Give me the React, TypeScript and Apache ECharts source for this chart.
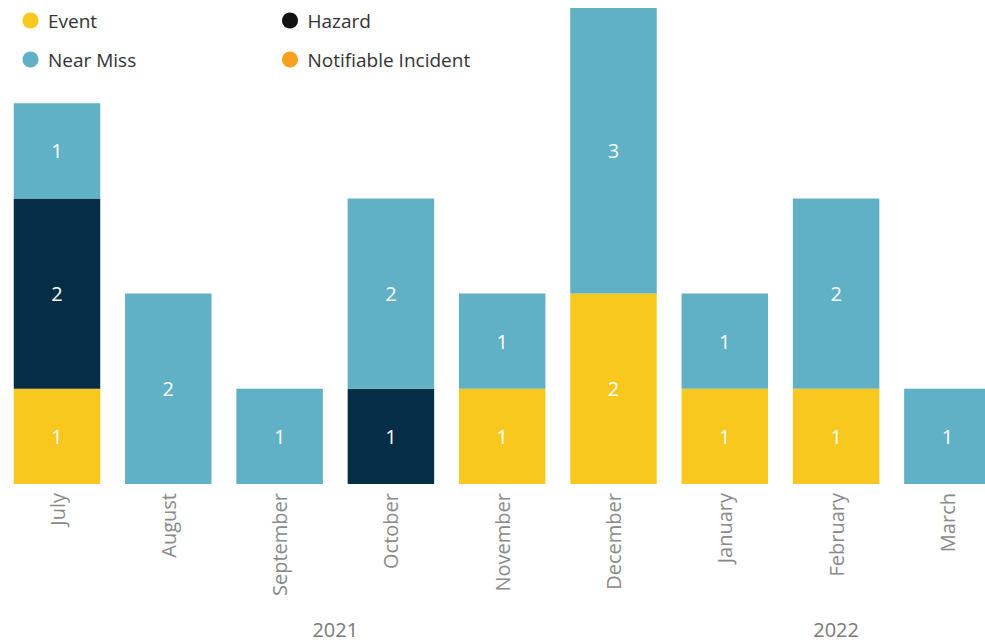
import React, { useEffect, useRef } from "react";
import * as echarts from "echarts";

const months = ["July", "August", "September", "October", "November", "December", "January", "February", "March"];
const eventValues = [1, null, null, null, 1, 2, 1, 1, null];
const hazardValues = [2, null, null, 1, null, null, null, null, null];
const nearMissValues = [1, 2, 1, 2, 1, 3, 1, 2, 1];
const notifiableValues = [null, null, null, null, null, null, null, null, null];
const years = ["2021", "2022"];
const yearFirstIndex = [0, 6];
const yearLastIndex = [5, 8];

const FONT = "'Open Sans', 'Noto Sans', sans-serif";

export default function App() {
  const ref = useRef<HTMLDivElement>(null);
  useEffect(() => {
    document.body.style.margin = "0";
    const chart = echarts.init(ref.current!, null, { renderer: "svg" });
    const yearMids = years.map((_, i) => (yearFirstIndex[i] + yearLastIndex[i]) / 2);
    const label = {
      show: true,
      position: "inside",
      color: "#ffffff",
      fontSize: 20,
      fontFamily: FONT,
    };
    const legendCommon = {
      orient: "vertical",
      top: 11,
      padding: 0,
      itemWidth: 25,
      itemHeight: 16,
      itemGap: 20,
      icon: "circle",
      textStyle: { fontSize: 19, color: "#333333", fontFamily: FONT },
    };
    chart.setOption({
      animation: false,
      legend: [
        { ...legendCommon, left: 22.5, data: ["Event", "Near Miss"] },
        {
          ...legendCommon,
          left: 282,
          data: [
            { name: "Hazard", itemStyle: { color: "#111111" } },
            "Notifiable Incident",
          ],
        },
      ],
      grid: { left: 1.35, width: 1001.7, top: 8, bottom: 160, containLabel: false, outerBoundsMode: "none" },
      xAxis: [
        {
          type: "category",
          data: months,
          axisLine: { show: false },
          axisTick: { show: false },
          axisLabel: {
            rotate: 90,
            interval: 0,
            margin: 9,
            fontSize: 20,
            color: "#8a8a8a",
            fontFamily: FONT,
          },
        },
        {
          type: "value",
          min: -0.5,
          max: 8.5,
          position: "bottom",
          axisLine: { show: false },
          axisTick: { show: false },
          splitLine: { show: false },
          axisLabel: {
            customValues: yearMids,
            formatter: (v: number) => {
              const i = yearMids.indexOf(v);
              return i >= 0 ? years[i] : "";
            },
            margin: 135,
            fontSize: 20,
            color: "#7a7a7a",
            fontFamily: FONT,
          },
        },
      ],
      yAxis: { type: "value", min: 0, max: 5, show: false, splitLine: { show: false } },
      series: [
        { name: "Event", type: "bar", stack: "total", data: eventValues, itemStyle: { color: "#F8C81F" }, label, barCategoryGap: "22.3%" },
        { name: "Hazard", type: "bar", stack: "total", data: hazardValues, itemStyle: { color: "#032E45" }, label },
        { name: "Near Miss", type: "bar", stack: "total", data: nearMissValues, itemStyle: { color: "#60B0C6" }, label },
        { name: "Notifiable Incident", type: "bar", stack: "total", data: notifiableValues, itemStyle: { color: "#F7A11E" }, label },
      ],
    });
    return () => chart.dispose();
  }, []);
  return <div ref={ref} style={{ width: 985, height: 644, position: "absolute", left: 0, top: 0 }} />;
}
